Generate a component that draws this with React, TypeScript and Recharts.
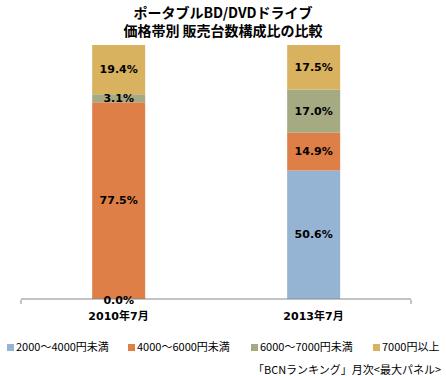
import React from 'react';
import { BarChart, Bar, XAxis, YAxis, LabelList } from 'recharts';

const categories = ['2010年7月', '2013年7月'];
const s2000to4000 = [0.0, 50.6];
const s4000to6000 = [77.5, 14.9];
const s6000to7000 = [3.1, 17.0];
const s7000plus = [19.4, 17.5];
const seriesNames = ['2000〜4000円未満', '4000〜6000円未満', '6000〜7000円未満', '7000円以上'];
const seriesColors = ['#95B4D4', '#DE7F47', '#A5AA82', '#D8B25F'];
const titleLines = ['ポータブルBD/DVDドライブ', '価格帯別 販売台数構成比の比較'];
const sourceText = '「BCNランキング」月次<最大パネル>';
const bandEdges = [0, 1, 2];

const data = categories.map((c, i) => ({
  name: c,
  a: s2000to4000[i],
  b: s4000to6000[i],
  c: s6000to7000[i],
  d: s7000plus[i],
}));
const keys = ['a', 'b', 'c', 'd'];

const labelFont = '"DejaVu Sans", "Noto Sans CJK JP", sans-serif';
const cjkFont = '"Noto Sans CJK JP", sans-serif';

const legendX = [7, 128, 251, 373];

const renderLabel = (props: any) => {
  const { x, y, width, height, value } = props;
  const v = Number(value);
  const cy = Number(y) + Number(height) / 2 + (v === 0 ? 2 : 0);
  return (
    <text
      x={Number(x) + Number(width) / 2}
      y={cy}
      textAnchor="middle"
      dominantBaseline="central"
      style={{ fontFamily: labelFont, fontWeight: 'bold', fontSize: 11, fill: '#000' }}
    >
      {`${v.toFixed(1)}%`}
    </text>
  );
};

const EmptyTick = () => <g />;

export default function App() {
  return (
    <div style={{ position: 'absolute', left: 0, top: 0, width: 446, height: 376, background: '#fff' }}>
      <BarChart width={446} height={376} data={data} margin={{ top: 45, right: 35, bottom: 46, left: 21 }} barCategoryGap="36.5%">
        <XAxis
          xAxisId="edge"
          type="number"
          domain={[0, 2]}
          ticks={bandEdges}
          height={30}
          tick={<EmptyTick />}
          axisLine={false}
          tickLine={{ stroke: '#888' }}
          tickSize={4}
        />
        <XAxis
          dataKey="name"
          height={1}
          axisLine={{ stroke: '#888' }}
          tickLine={false}
          interval={0}
          tick={{ fontFamily: labelFont, fontWeight: 'bold', fontSize: 11, fill: '#000', dy: 5 }}
        />
        <YAxis hide domain={[0, 100]} />
        {keys.map((k, i) => (
          <Bar key={k} dataKey={k} stackId="s" fill={seriesColors[i]} isAnimationActive={false} minPointSize={i === 0 ? 1 : 0}>
            <LabelList dataKey={k} content={renderLabel} />
          </Bar>
        ))}
      </BarChart>
      <div style={{ position: 'absolute', left: 0, top: 3, width: 446, textAlign: 'center', fontFamily: cjkFont, fontWeight: 'bold', fontSize: 14, lineHeight: '18px', color: '#000' }}>
        {titleLines.map((t) => (
          <div key={t}>{t}</div>
        ))}
      </div>
      <div style={{ position: 'absolute', left: 0, top: 338, width: 446, height: 16 }}>
        {seriesNames.map((n, i) => (
          <div key={n} style={{ position: 'absolute', left: legendX[i], top: 0, display: 'flex', alignItems: 'center', height: 16 }}>
            <div style={{ width: 7, height: 7, background: seriesColors[i], marginRight: 2, marginTop: 3 }} />
            <span style={{ fontFamily: cjkFont, fontSize: 11, color: '#000', whiteSpace: 'nowrap' }}>{n}</span>
          </div>
        ))}
      </div>
      <div style={{ position: 'absolute', right: 5, top: 361, fontFamily: cjkFont, fontSize: 11, color: '#000', whiteSpace: 'nowrap' }}>
        {sourceText}
      </div>
    </div>
  );
}
